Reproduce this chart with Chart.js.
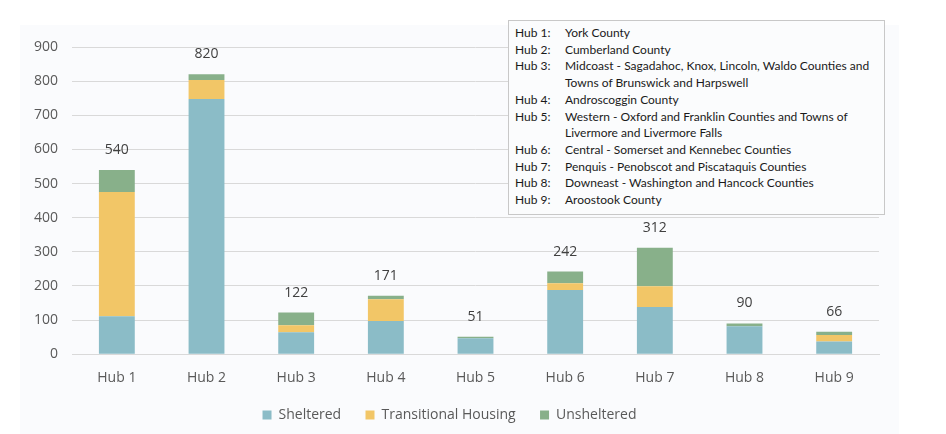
<!DOCTYPE html>
<html>
<head>
<meta charset="utf-8">
<script src="https://cdn.jsdelivr.net/npm/chart.js@4.4.0/dist/chart.umd.min.js"></script>
<style>
    html, body { margin: 0; padding: 0; background: #fff; }
    #wrap { position: relative; width: 946px; height: 434px; }
    #panel { position: absolute; left: 20px; top: 25px; width: 879px; height: 409px; background: #fafbfd; }
    #c { position: absolute; left: 0; top: 0; }
    #hubs {
        position: absolute; left: 508px; top: 20px; width: 377px; height: 195px;
        box-sizing: border-box; border: 1px solid #c8c8c8; background: #fbfcfd;
        font-family: Lato, sans-serif; font-size: 12px; color: #1a1a1a;
        padding: 4px 6px; line-height: 16.7px;
    }
    #hubs .row { display: flex; }
    #hubs .k { width: 50px; flex: none; }
</style>
</head>
<body>
<div id="wrap">
    <div id="panel"></div>
    <canvas id="c" width="946" height="434"></canvas>
    <div id="hubs"></div>
</div>
<script>
const hubs = ['Hub 1', 'Hub 2', 'Hub 3', 'Hub 4', 'Hub 5', 'Hub 6', 'Hub 7', 'Hub 8', 'Hub 9'];
const sheltered = [111, 748, 64, 97, 47, 188, 138, 82, 37];
const transitional = [364, 55, 21, 64, 0, 20, 61, 0, 19];
const unsheltered = [65, 17, 37, 10, 4, 34, 113, 8, 10];
const totals = [540, 820, 122, 171, 51, 242, 312, 90, 66];
const yTicks = [0, 100, 200, 300, 400, 500, 600, 700, 800, 900];

const hubNotes = [
    ['Hub 1:', 'York County'],
    ['Hub 2:', 'Cumberland County'],
    ['Hub 3:', 'Midcoast - Sagadahoc, Knox, Lincoln, Waldo Counties and Towns of Brunswick and Harpswell'],
    ['Hub 4:', 'Androscoggin County'],
    ['Hub 5:', 'Western - Oxford and Franklin Counties and Towns of Livermore and Livermore Falls'],
    ['Hub 6:', 'Central - Somerset and Kennebec Counties'],
    ['Hub 7:', 'Penquis - Penobscot and Piscataquis Counties'],
    ['Hub 8:', 'Downeast - Washington and Hancock Counties'],
    ['Hub 9:', 'Aroostook County']
];
const box = document.getElementById('hubs');
hubNotes.forEach(function (n) {
    const row = document.createElement('div');
    row.className = 'row';
    row.innerHTML = '<span class="k">' + n[0] + '</span><span>' + n[1] + '</span>';
    box.appendChild(row);
});

// total labels above each stack
const totalLabels = {
    id: 'totalLabels',
    afterDatasetsDraw(chart) {
        const ctx = chart.ctx;
        const y = chart.scales.y;
        const x = chart.scales.x;
        ctx.save();
        ctx.font = '14px "Open Sans", sans-serif';
        ctx.fillStyle = '#404040';
        ctx.textAlign = 'center';
        ctx.textBaseline = 'middle';
        totals.forEach(function (t, i) {
            ctx.fillText(String(t), x.getPixelForValue(i), y.getPixelForValue(t) - 20);
        });
        ctx.restore();
    }
};

new Chart(document.getElementById('c').getContext('2d'), {
    type: 'bar',
    data: {
        labels: hubs,
        datasets: [
            { label: 'Sheltered', data: sheltered, backgroundColor: '#8bbcc7' },
            { label: 'Transitional Housing', data: transitional, backgroundColor: '#f2c667' },
            { label: 'Unsheltered', data: unsheltered, backgroundColor: '#88b08a' }
        ]
    },
    options: {
        responsive: false,
        animation: false,
        layout: { padding: { left: 20, right: 67, top: 47, bottom: 2 } },
        datasets: { bar: { categoryPercentage: 1, barPercentage: 0.4, borderWidth: 0 } },
        scales: {
            x: {
                stacked: true,
                grid: { display: false },
                border: { color: '#d9d9d9', width: 1 },
                ticks: { color: '#595959', font: { size: 14, family: '"Open Sans", sans-serif' }, padding: 7 }
            },
            y: {
                stacked: true,
                min: 0,
                max: 900,
                afterBuildTicks(axis) { axis.ticks = yTicks.map(function (v) { return { value: v }; }); },
                grid: { color: '#d9d9d9', drawTicks: false },
                border: { display: false },
                ticks: { color: '#595959', font: { size: 14, family: '"Open Sans", sans-serif' }, padding: 14 }
            }
        },
        plugins: {
            legend: {
                position: 'bottom',
                labels: {
                    color: '#595959',
                    font: { size: 14, family: '"Open Sans", sans-serif' },
                    boxWidth: 9, boxHeight: 9, padding: 15,
                    // widen the gap between items without making the legend taller
                    generateLabels(chart) {
                        const items = Chart.defaults.plugins.legend.labels.generateLabels(chart);
                        items.forEach(function (it, i) {
                            if (i < items.length - 1) it.text = it.text + '\u2002\u2009';
                        });
                        return items;
                    }
                }
            },
            tooltip: { enabled: false }
        }
    },
    plugins: [totalLabels]
});
</script>
</body>
</html>
